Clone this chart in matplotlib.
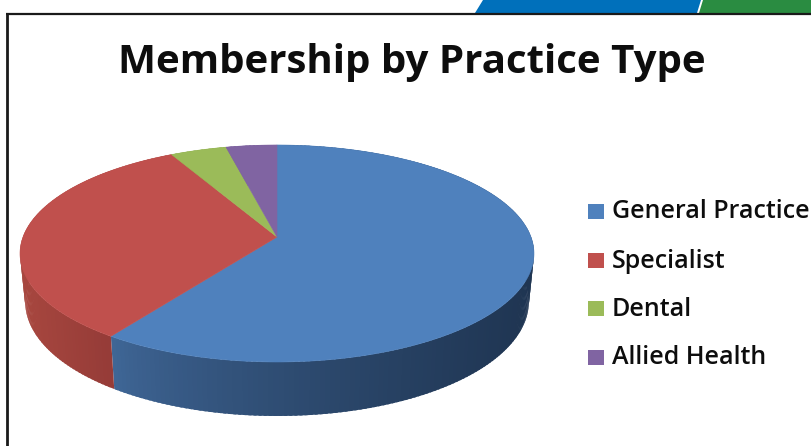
import numpy as np
import matplotlib
matplotlib.use("Agg")
import matplotlib.pyplot as plt
from matplotlib.patches import Polygon, Rectangle

# chart data
title = "Membership by Practice Type"
categories = ["General Practice", "Specialist", "Dental", "Allied Health"]
values = [59.7, 32.5, 4.1, 3.7]
colors = ["#4f81bd", "#c0504d", "#9bbb59", "#8064a2"]

# wall shading, left and right end of each slice side
wall_left = ["#41699a", "#a8473f", "#7d9a45", "#66508a"]
wall_right = ["#1f3552", "#963c38", "#7d9a45", "#66508a"]

plt.rcParams["font.family"] = ["Open Sans", "DejaVu Sans"]

fig = plt.figure(figsize=(8.11, 4.46), dpi=100)
ax = fig.add_axes([0, 0, 1, 1])
ax.set_xlim(0, 811)
ax.set_ylim(446, 0)
ax.axis("off")

# pixel geometry of the tilted pie
cx, cy = 277, 237
radius = 254
tilt_a, tilt_k = 106, -0.152
depth_side, depth_front = 47, 7


def rim(theta, lower=False):
    # theta in degrees clockwise from 12 o'clock
    t = np.radians(theta)
    u, v = np.sin(t), -np.cos(t)
    d = 1 + tilt_k * v
    x = cx + radius * u / d
    y = cy + tilt_a * v / d
    if lower:
        x = cx + (x - cx) * 0.98
        y = y + depth_side + depth_front * v
    return x, y


# slice limits from the values
edges = np.concatenate([[0], np.cumsum(values)]) / np.sum(values) * 360

# side wall first, top surface goes over it
for i in range(len(values)):
    a0, a1 = edges[i], edges[i + 1]
    c0 = np.array(matplotlib.colors.to_rgb(wall_left[i]))
    c1 = np.array(matplotlib.colors.to_rgb(wall_right[i]))
    steps = np.arange(a0, a1, 1.0)
    steps = np.append(steps, a1)
    # walk from the far end so every strip overlaps the one before it
    for s0, s1 in zip(steps[:-1][::-1], steps[1:][::-1]):
        s1 = min(s1 + 0.6, a1)
        x0, y0 = rim(s0)
        x1, y1 = rim(s1)
        x2, y2 = rim(s1, True)
        x3, y3 = rim(s0, True)
        if i == 1:
            f = 1 - np.clip((x0 - 20) / 90, 0, 1)
            col = c1 + (c0 - c1) * f
        else:
            f = np.clip((x0 - 110) / 424, 0, 1) ** 0.7
            col = c0 + (c1 - c0) * f
        ax.add_patch(Polygon([(x0, y0), (x1, y1), (x2, y2), (x3, y3)],
                             facecolor=col, edgecolor="none"))

# top of the pie
for i in range(len(values)):
    angles = np.linspace(edges[i], edges[i + 1], 200)
    xs, ys = rim(angles)
    pts = [(cx, cy)] + list(zip(xs, ys))
    ax.add_patch(Polygon(pts, facecolor=colors[i], edgecolor=colors[i], linewidth=0.4))

# slide decoration, tabs and frame
ax.add_patch(Polygon([(475, 13), (483, 0), (701, 0), (697, 13)], facecolor="#0070bb", edgecolor="none"))
ax.add_patch(Polygon([(699, 13), (703, 0), (811, 0), (811, 13)], facecolor="#2a8c41", edgecolor="none"))
ax.plot([6, 811], [13.5, 13.5], color="#1a1a1a", linewidth=1.6, solid_capstyle="butt")
ax.plot([7, 7], [13, 446], color="#1a1a1a", linewidth=2.0, solid_capstyle="butt")

ax.text(412, 62, title, fontsize=29, fontweight="bold", color="#0d0d0d", ha="center", va="center")

# legend
legend_y = [211, 260, 308, 357]
for name, col, ly in zip(categories, colors, legend_y):
    ax.add_patch(Rectangle((588, ly - 7), 16, 15, facecolor=col, edgecolor="none"))
    ax.text(612, ly + 1, name, fontsize=18, fontweight="semibold", color="#0d0d0d", ha="left", va="center")

fig.savefig("out.png", dpi=100)
